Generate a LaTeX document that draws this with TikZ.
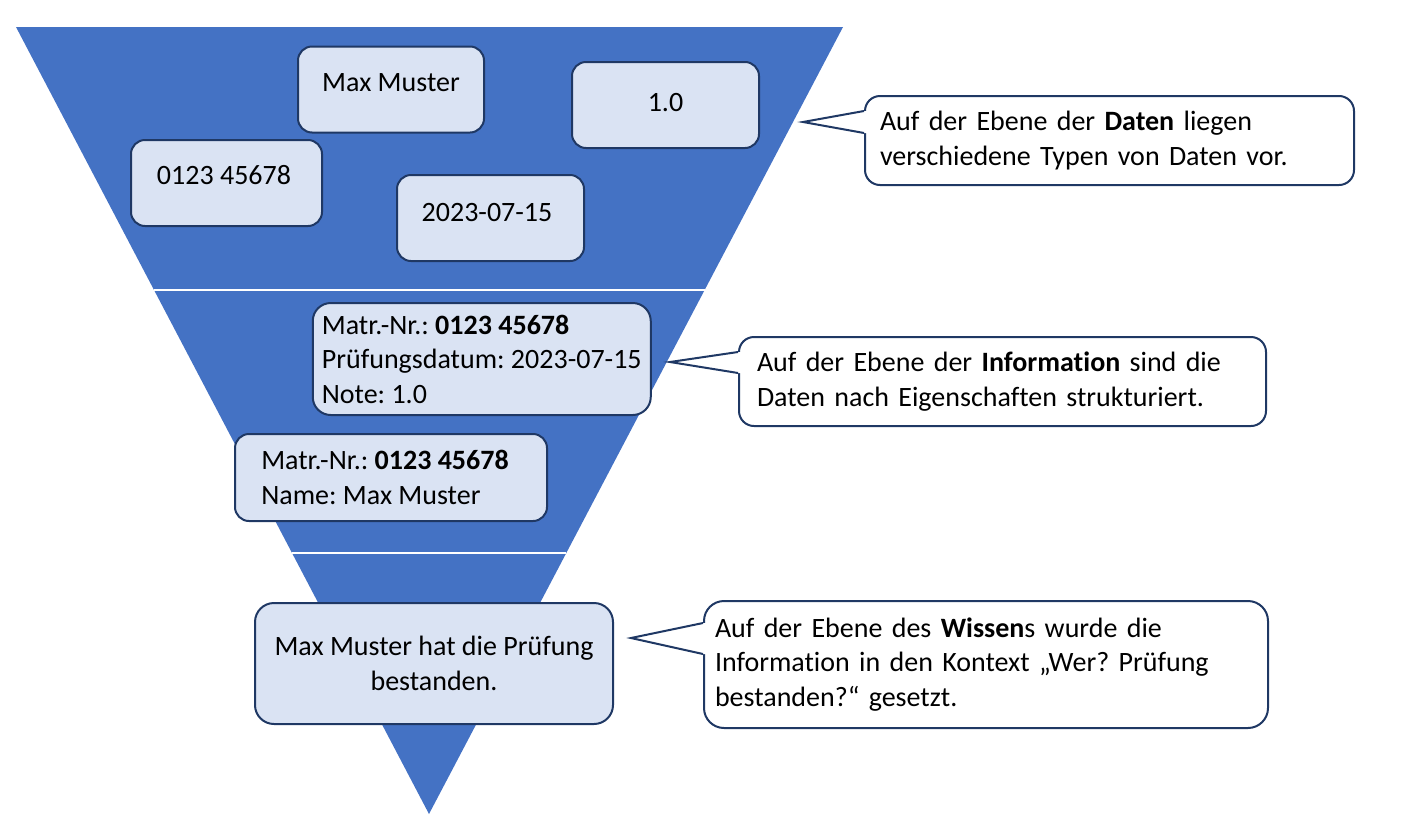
\documentclass[tikz,border=0pt]{standalone}
\usepackage{fontspec}
\setmainfont{Carlito}[Ligatures=NoCommon]
\usetikzlibrary{calc}
\definecolor{tri}{HTML}{4472C4}
\definecolor{boxfill}{HTML}{DAE3F3}
\definecolor{edge}{HTML}{1F3864}
\newcommand{\up}[2]{\raisebox{#1}[\height][\depth]{#2}}
\frenchspacing
\begin{document}
\begin{tikzpicture}[x=1pt,y=-1pt,
  font=\fontsize{28}{34.5}\selectfont,
  base/.style={draw=edge, line width=2pt, inner sep=0pt},
  datbox/.style={base, fill=boxfill, rounded corners=14pt, minimum height=86pt},
  infobox/.style={base, fill=boxfill, align=left, inner xsep=6pt},
  callout/.style={base, fill=white, align=left, rounded corners=15pt},
  leg/.style={draw=edge, line width=2pt, line join=miter},
  divider/.style={white, line width=2.5pt}]
\useasboundingbox (0,0) rectangle (1402,828);
% pyramid
\coordinate (tl) at (16,27);
\coordinate (tr) at (843,27);
\coordinate (ap) at (429,814);
\fill[tri] (tl) -- (tr) -- (ap) -- cycle;
\draw[divider] ($(tl)!0.3342!(ap)$) -- ($(tr)!0.3342!(ap)$);
\draw[divider] ($(tl)!0.6684!(ap)$) -- ($(tr)!0.6684!(ap)$);
% data level
\node[datbox, minimum width=186pt] (d1) at (391,89.5) {\up{6.5pt}{Max Muster}};
\node[datbox, minimum width=187pt] (d2) at (665.5,105) {\up{2pt}{1.0}};
\node[datbox, minimum width=191pt] (d3) at (226.5,183) {\up{7.5pt}{0123 45678\hspace{5pt}}};
\node[datbox, minimum width=187pt] (d4) at (490.5,218) {\up{5pt}{2023-07-15\hspace{7pt}}};
% information level
\node[infobox, rounded corners=18pt, minimum width=338pt, minimum height=112pt] (i1) at (481.75,359)
  {Matr.-Nr.: \textbf{0123 45678}\\Prüfungsdatum: 2023-07-15\\Note: 1.0};
\node[infobox, rounded corners=14pt, minimum width=312pt, minimum height=87pt] (i2) at (391,477.5)
  {Matr.-Nr.: \textbf{0123 45678}\rule{12pt}{0pt}\\Name: Max Muster};
% knowledge level
\node[base, fill=boxfill, align=center, rounded corners=19pt, minimum width=358pt, minimum height=121pt] (k) at (434,663.5)
  {Max Muster hat die Prüfung\\bestanden.};
% callouts
\node[callout, text width=459pt, inner xsep=15pt, minimum height=89pt] (c1) at (1109.5,140.5)
  {Auf der Ebene der \textbf{Daten} liegen\\verschiedene Typen von Daten vor.};
\node[callout, text width=491pt, inner xsep=18pt, minimum height=89pt] (c2) at (1002.5,381.5)
  {Auf der Ebene der \textbf{Information} sind die\\Daten nach Eigenschaften strukturiert.};
\node[callout, text width=542pt, inner xsep=11pt, minimum height=127pt, rounded corners=20pt] (c3) at (986,664.5)
  {Auf der Ebene des \textbf{Wissen}s wurde die\\Information in den Kontext „Wer? Prüfung\\bestanden?“ gesetzt.};
% pointers
\coordinate (c1a) at (c1.west |- 0,111);
\coordinate (c1b) at (c1.west |- 0,133);
\coordinate (c1t) at (803,122);
\coordinate (c2a) at (c2.west |- 0,352);
\coordinate (c2b) at (c2.west |- 0,373);
\coordinate (c2t) at (670,362);
\coordinate (c3a) at (c3.west |- 0,623);
\coordinate (c3b) at (c3.west |- 0,654);
\coordinate (c3t) at (631,638);
\foreach \c in {c1,c2,c3}{
  \fill[white] (\c a) -- (\c t) -- (\c b) -- ($(\c b)+(4,0)$) -- ($(\c a)+(4,0)$) -- cycle;
  \draw[leg] (\c a) -- (\c t) -- (\c b);
}
\end{tikzpicture}
\end{document}
